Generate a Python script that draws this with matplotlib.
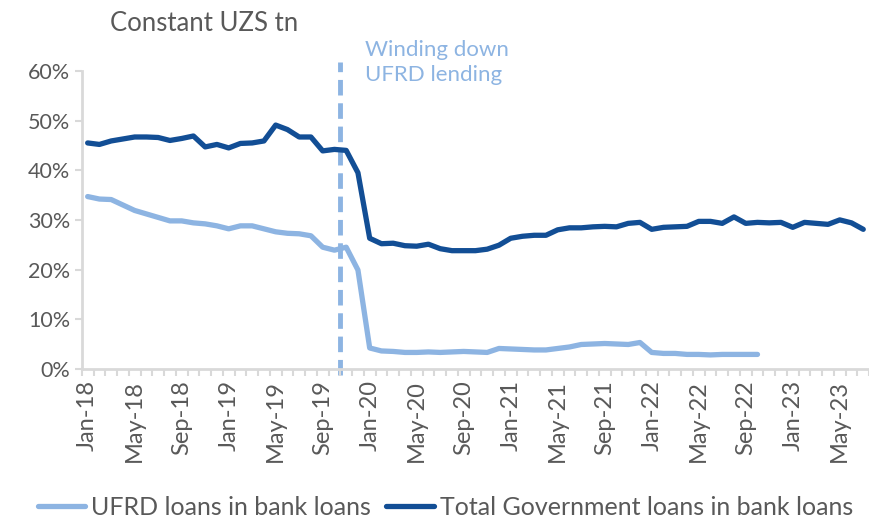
import matplotlib
matplotlib.use('Agg')

import numpy as np
import matplotlib.pyplot as plt

plt.rcParams['font.family'] = ['Lato', 'DejaVu Sans']

# Monthly axis, Jan-18 .. Jul-23
months = ['Jan', 'Feb', 'Mar', 'Apr', 'May', 'Jun', 'Jul', 'Aug', 'Sep', 'Oct', 'Nov', 'Dec']
labels = ['%s-%02d' % (m, y) for y in range(18, 24) for m in months][:67]

# Total Government loans in bank loans (%)
total_gov = [45.5, 45.2, 45.9, 46.3, 46.7, 46.7, 46.6, 46.0, 46.4, 46.9, 44.7, 45.2,
             44.5, 45.4, 45.5, 45.9, 49.1, 48.2, 46.7, 46.7, 43.9, 44.2, 44.0, 39.5,
             26.3, 25.2, 25.3, 24.8, 24.7, 25.1, 24.2, 23.8, 23.8, 23.8, 24.1, 24.9,
             26.3, 26.7, 26.9, 26.9, 28.0, 28.4, 28.4, 28.6, 28.7, 28.6, 29.3, 29.5,
             28.1, 28.5, 28.6, 28.7, 29.7, 29.7, 29.3, 30.6, 29.3, 29.5, 29.4, 29.5,
             28.5, 29.5, 29.3, 29.1, 30.0, 29.4, 28.1]

# UFRD loans in bank loans (%), ends Oct-22
ufrd = [34.7, 34.2, 34.1, 33.0, 31.9, 31.2, 30.5, 29.8, 29.8, 29.4, 29.2, 28.8,
        28.2, 28.8, 28.8, 28.2, 27.6, 27.3, 27.2, 26.8, 24.5, 23.9, 24.5, 19.9,
        4.2, 3.6, 3.5, 3.3, 3.3, 3.4, 3.3, 3.4, 3.5, 3.4, 3.3, 4.1,
        4.0, 3.9, 3.8, 3.8, 4.1, 4.4, 4.9, 5.0, 5.1, 5.0, 4.9, 5.3,
        3.3, 3.1, 3.1, 2.9, 2.9, 2.8, 2.9, 2.9, 2.9, 2.9]

LIGHT = '#8DB4E2'
DARK = '#124E95'
GREY = '#595959'
AXIS = '#D9D9D9'

fig = plt.figure(figsize=(8.7, 5.18), dpi=100)
ax = fig.add_axes([0.094, 0.288, 0.905, 0.575])

x = np.arange(len(labels))
ax.plot(np.arange(len(ufrd)), np.array(ufrd) / 100, color=LIGHT, lw=3.8,
        solid_capstyle='round', label='UFRD loans in bank loans')
ax.plot(x, np.array(total_gov) / 100, color=DARK, lw=3.8,
        solid_capstyle='round', label='Total Government loans in bank loans')

# policy marker between Oct-19 and Nov-19
ax.plot([21.5, 21.5], [-0.012, 0.618], color=LIGHT, lw=3.5, ls=(0, (3.2, 1.6)),
        clip_on=False, zorder=1)
ax.text(23.6, 0.617, 'Winding down\nUFRD lending', color=LIGHT, fontsize=16,
        va='center', ha='left', linespacing=1.35)

ax.set_xlim(-0.5, len(labels) - 0.5)
ax.set_ylim(0, 0.6)
ax.set_yticks(np.arange(0, 0.61, 0.1))
ax.set_yticklabels(['%d%%' % v for v in range(0, 61, 10)])
ax.set_xticks(x[::4])
ax.set_xticklabels(labels[::4], rotation=90)
ax.set_xticks(np.arange(-0.5, len(labels), 1), minor=True)

for s in ['top', 'right']:
    ax.spines[s].set_visible(False)
for s in ['left', 'bottom']:
    ax.spines[s].set_color(AXIS)
    ax.spines[s].set_linewidth(2)
ax.tick_params(axis='y', colors=AXIS, labelcolor=GREY, labelsize=15.5, length=5, width=1.5)
ax.tick_params(axis='x', which='major', length=0, labelcolor=GREY, labelsize=17, pad=8)
ax.tick_params(axis='x', which='minor', colors=AXIS, length=5, width=1.5)

fig.text(0.127, 0.955, 'Constant UZS tn', color=GREY, fontsize=18.5, va='center')

ax.legend(loc='center', bbox_to_anchor=(0.512, 0.021), bbox_transform=fig.transFigure,
          ncol=2, frameon=False, fontsize=18, labelcolor=GREY,
          handlelength=1.9, handletextpad=0.25, columnspacing=0.6)

fig.savefig('out.png', dpi=100)
